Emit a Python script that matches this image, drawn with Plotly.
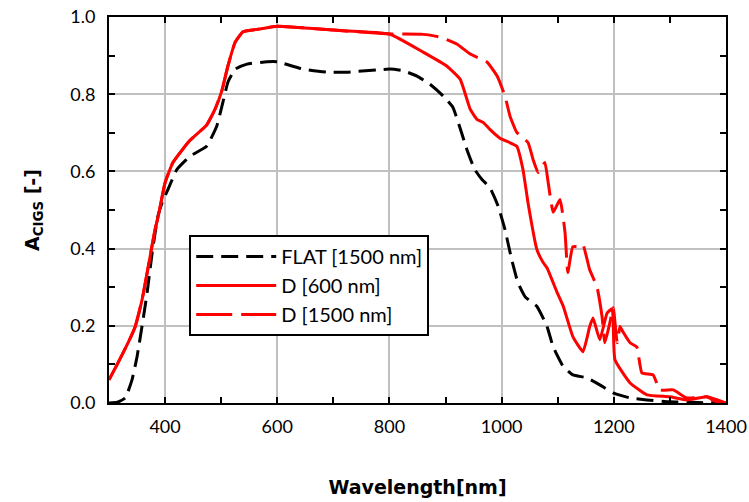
import plotly.graph_objects as go

# FLAT [1500 nm]
flat_wl = [300, 315, 329, 341, 350, 359, 368, 377, 387, 395, 405, 421, 444, 474, 492, 503, 512, 525, 546, 582,
           600, 646, 689, 724, 778, 801, 824, 849, 872, 896, 913, 926, 938, 952, 965, 979, 994, 1006, 1018, 1029,
           1042, 1063, 1081, 1092, 1110, 1127, 1152, 1175, 1199, 1229, 1259, 1300, 1350, 1400]
flat_a = [0.0, 0.002, 0.013, 0.06, 0.12, 0.2, 0.286, 0.39, 0.483, 0.52, 0.553, 0.605, 0.639, 0.665, 0.717, 0.779,
          0.831, 0.865, 0.878, 0.884, 0.884, 0.865, 0.857, 0.857, 0.863, 0.865, 0.861, 0.847, 0.826, 0.795, 0.766,
          0.712, 0.657, 0.605, 0.579, 0.558, 0.509, 0.449, 0.371, 0.312, 0.275, 0.25, 0.198, 0.145, 0.094, 0.073,
          0.065, 0.047, 0.026, 0.013, 0.008, 0.003, 0.001, 0.0]

# D [600 nm]
d600_wl = [300, 316, 334, 346, 359, 370, 382, 388, 400, 414, 444, 474, 489, 501, 512, 525, 539, 569, 600, 700,
           800, 860, 902, 926, 944, 956, 967, 979, 997, 1027, 1038, 1047, 1063, 1074, 1081, 1099, 1110, 1127, 1145,
           1157, 1163, 1175, 1188, 1197, 1202, 1229, 1259, 1300, 1330, 1366, 1380, 1400]
d600_a = [0.06, 0.104, 0.156, 0.195, 0.268, 0.353, 0.449, 0.485, 0.571, 0.623, 0.68, 0.72, 0.761, 0.808, 0.873,
          0.935, 0.962, 0.969, 0.976, 0.966, 0.956, 0.909, 0.873, 0.839, 0.761, 0.735, 0.727, 0.709, 0.686, 0.665,
          0.605, 0.519, 0.397, 0.364, 0.35, 0.286, 0.25, 0.172, 0.133, 0.198, 0.22, 0.164, 0.233, 0.244, 0.112,
          0.052, 0.021, 0.016, 0.008, 0.016, 0.005, 0.0]

# D [1500 nm]
d1500_wl = [300, 316, 334, 346, 359, 370, 382, 388, 400, 414, 444, 474, 489, 501, 512, 525, 539, 569, 600, 700,
            800, 860, 890, 920, 944, 974, 992, 1006, 1015, 1027, 1047, 1056, 1065, 1077, 1083, 1092, 1104, 1113,
            1118, 1127, 1140, 1145, 1157, 1170, 1179, 1184, 1193, 1199, 1206, 1211, 1216, 1229, 1241, 1250, 1270,
            1282, 1306, 1330, 1366, 1400]
d1500_a = [0.06, 0.104, 0.156, 0.195, 0.268, 0.353, 0.449, 0.485, 0.571, 0.623, 0.68, 0.72, 0.761, 0.808, 0.873,
           0.935, 0.962, 0.969, 0.976, 0.966, 0.956, 0.955, 0.948, 0.93, 0.904, 0.883, 0.847, 0.795, 0.743, 0.701,
           0.675, 0.631, 0.597, 0.623, 0.571, 0.494, 0.527, 0.442, 0.338, 0.405, 0.405, 0.41, 0.345, 0.301, 0.224,
           0.156, 0.208, 0.247, 0.156, 0.198, 0.185, 0.156, 0.145, 0.078, 0.073, 0.034, 0.034, 0.013, 0.016, 0.0]

x_ticks = [400, 600, 800, 1000, 1200, 1400]
y_ticks = [0.0, 0.2, 0.4, 0.6, 0.8, 1.0]

fig = go.Figure()
fig.add_trace(go.Scatter(x=flat_wl, y=flat_a, mode="lines", name="FLAT [1500 nm]",
                         line=dict(color="black", width=3, dash="17px,8px", shape="spline", smoothing=0.4)))
fig.add_trace(go.Scatter(x=d600_wl, y=d600_a, mode="lines", name="D [600 nm]",
                         line=dict(color="#ff0000", width=3, shape="spline", smoothing=0.4)))
fig.add_trace(go.Scatter(x=d1500_wl, y=d1500_a, mode="lines", name="D [1500 nm]",
                         line=dict(color="#ff0000", width=3, dash="36px,9px", shape="spline", smoothing=0.4)))

tick_font = dict(family="Lato, Open Sans, sans-serif", size=18, color="black")
title_font = dict(family="DejaVu Sans, sans-serif", size=19, color="black", weight="bold")

fig.update_layout(
    width=749, height=502,
    margin=dict(l=109, r=23, t=17, b=99),
    paper_bgcolor="white", plot_bgcolor="white",
    showlegend=True,
    legend=dict(x=0.13, y=0.435, xanchor="left", yanchor="top",
                bgcolor="white", bordercolor="black", borderwidth=2,
                font=dict(family="Lato, Open Sans, sans-serif", size=20, color="black"),
                itemwidth=80, tracegroupgap=0),
    xaxis=dict(range=[300, 1400], tickvals=x_ticks, ticks="inside", ticklen=6, tickwidth=2, tickcolor="black",
               minor=dict(dtick=100, tick0=300, ticks="inside", ticklen=6, tickwidth=2, tickcolor="black",
                          showgrid=False),
               showgrid=True, gridcolor="#c0c0c0", gridwidth=2,
               showline=True, linecolor="black", linewidth=2, mirror="ticks",
               tickfont=tick_font, ticklabelstandoff=6, automargin=False, ticklabeloverflow="allow",
               title=dict(text="Wavelength[nm]", font=title_font, standoff=45),
               zeroline=False),
    yaxis=dict(range=[0, 1.0], tickvals=y_ticks, tickformat=".1f", ticks="inside", ticklen=6, tickwidth=2,
               tickcolor="black",
               minor=dict(dtick=0.1, tick0=0, ticks="inside", ticklen=6, tickwidth=2, tickcolor="black",
                          showgrid=False),
               showgrid=True, gridcolor="#c0c0c0", gridwidth=2,
               showline=True, linecolor="black", linewidth=2, mirror="ticks",
               tickfont=tick_font, ticklabelstandoff=8, automargin=False, ticklabeloverflow="allow",
               title=dict(text="A<sub>CIGS</sub> [-]", font=title_font, standoff=26),
               zeroline=False),
)

fig.write_html("out.html", config={"displayModeBar": False})

# remove the default 8px page margin so the figure fills the window exactly
with open("out.html", "r", encoding="utf-8") as f:
    html = f.read()
html = html.replace("<body>", '<body style="margin:0;padding:0;overflow:hidden">', 1)
with open("out.html", "w", encoding="utf-8") as f:
    f.write(html)
